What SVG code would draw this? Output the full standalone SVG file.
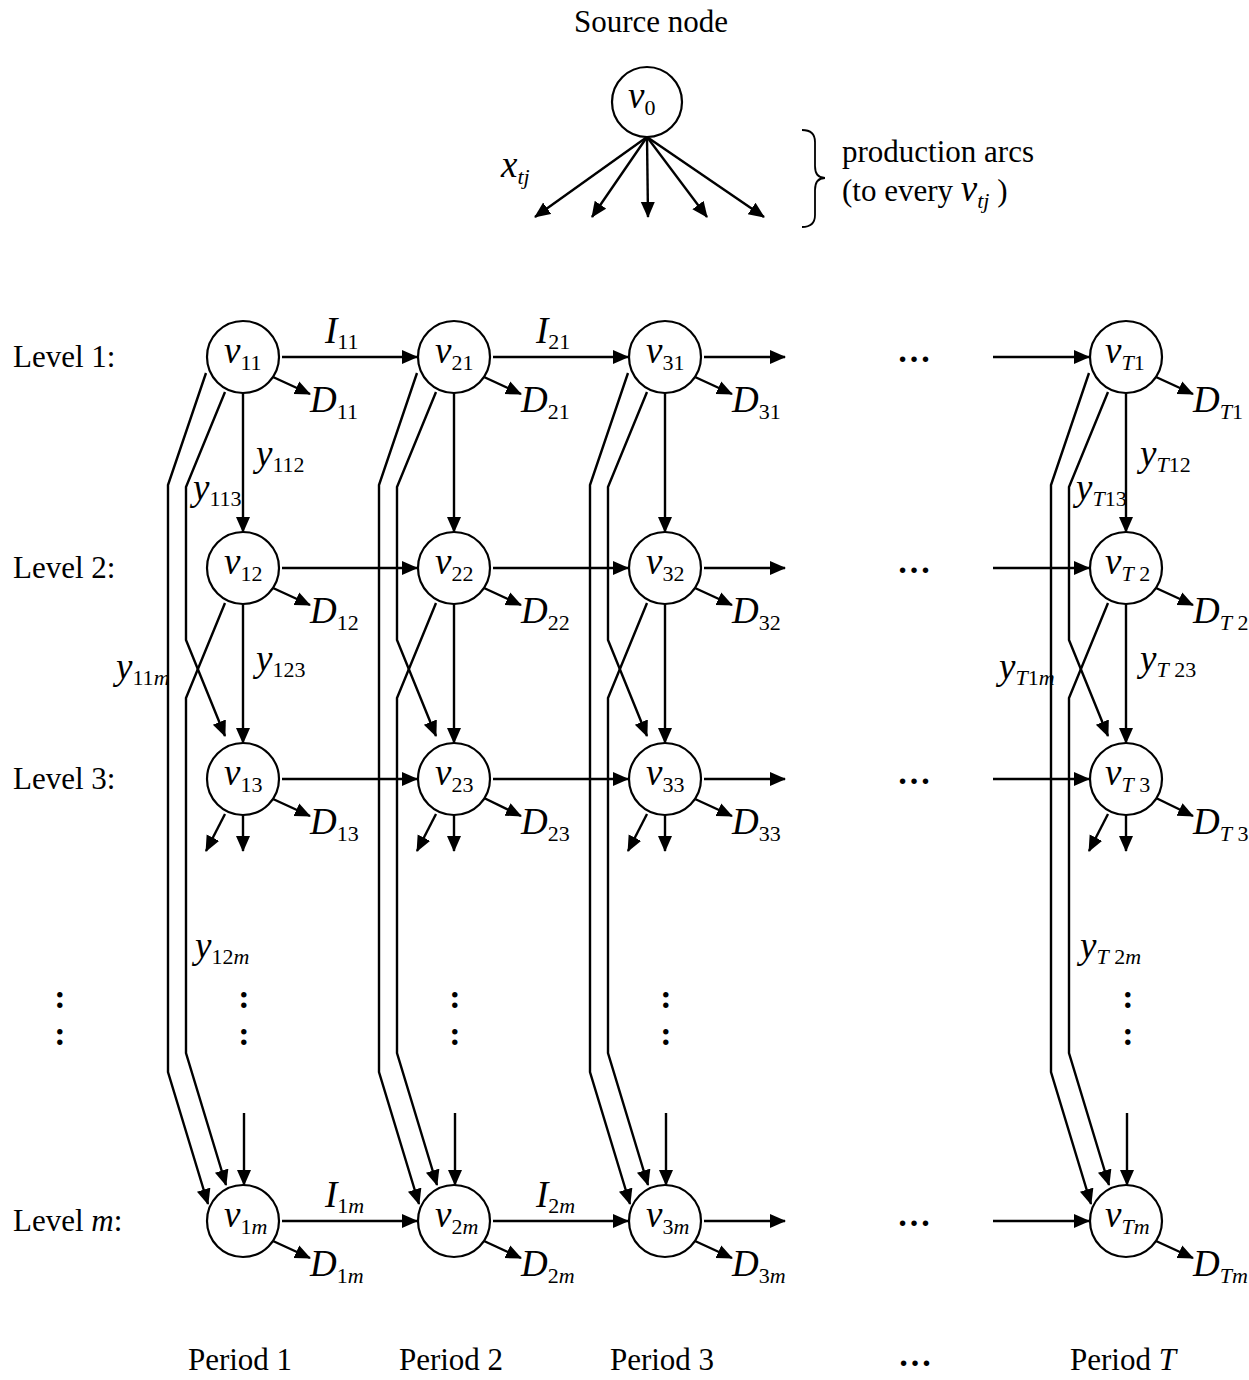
<svg xmlns="http://www.w3.org/2000/svg" width="1249" height="1380" viewBox="0 0 1249 1380">
<defs>
<marker id="ah" markerUnits="userSpaceOnUse" markerWidth="18" markerHeight="16" refX="15" refY="7" orient="auto">
<path d="M0,0 L16,7 L0,14 z" fill="#000"/>
</marker>
</defs>
<style>
text{font-family:"Liberation Serif","Times New Roman",serif;fill:#000}
.t{font-size:31px}
.i{font-size:37px;font-style:italic}
.s{font-size:22px;font-style:normal}
.si{font-size:22px;font-style:italic}
.b{font-size:34px;font-weight:bold}
circle{fill:#fff;stroke:#000;stroke-width:2.2}
.c path,.c line{stroke:#000;stroke-width:2.4;fill:none}
.a{marker-end:url(#ah)}
.br{stroke:#000;stroke-width:1.8;fill:none}
</style>
<rect width="1249" height="1380" fill="#fff"/>

<!-- top -->
<text class="t" x="651" y="32" text-anchor="middle">Source node</text>
<g class="c" id="production-arcs">
<line class="a" x1="647" y1="137" x2="535" y2="217"/>
<line class="a" x1="647" y1="137" x2="592" y2="217"/>
<line class="a" x1="647" y1="137" x2="648" y2="217"/>
<line class="a" x1="647" y1="137" x2="707" y2="217"/>
<line class="a" x1="647" y1="137" x2="764" y2="217"/>
</g>
<g id="v0"><circle cx="647" cy="102" r="35"/><text class="i" x="628" y="108">v<tspan class="s" dy="7">0</tspan></text></g>
<text class="i" x="501" y="177">x<tspan class="si" dy="7">tj</tspan></text>
<path class="br" d="M802,130 Q815,130 815,142 L815,166 Q815,178 825,178 Q815,178 815,190 L815,215 Q815,227 802,227"/>
<text class="t" x="842" y="162">production arcs</text>
<text class="t" x="842" y="201">(to every <tspan class="i">v</tspan><tspan class="si" dy="7">tj</tspan><tspan dy="-7"> )</tspan></text>

<!-- level labels -->
<text class="t" x="13" y="367">Level 1:</text>
<text class="t" x="13" y="578">Level 2:</text>
<text class="t" x="13" y="789">Level 3:</text>
<text class="t" x="13" y="1231">Level <tspan font-style="italic">m</tspan>:</text>

<!-- connectors -->
<g class="c" id="connectors">
<line class="a" x1="282" y1="357" x2="417" y2="357"/><line class="a" x1="493" y1="357" x2="628" y2="357"/><line class="a" x1="704" y1="357" x2="785" y2="357"/><line class="a" x1="993" y1="357" x2="1089" y2="357"/>
<line class="a" x1="282" y1="568" x2="417" y2="568"/><line class="a" x1="493" y1="568" x2="628" y2="568"/><line class="a" x1="704" y1="568" x2="785" y2="568"/><line class="a" x1="993" y1="568" x2="1089" y2="568"/>
<line class="a" x1="282" y1="779" x2="417" y2="779"/><line class="a" x1="493" y1="779" x2="628" y2="779"/><line class="a" x1="704" y1="779" x2="785" y2="779"/><line class="a" x1="993" y1="779" x2="1089" y2="779"/>
<line class="a" x1="282" y1="1221" x2="417" y2="1221"/><line class="a" x1="493" y1="1221" x2="628" y2="1221"/><line class="a" x1="704" y1="1221" x2="785" y2="1221"/><line class="a" x1="993" y1="1221" x2="1089" y2="1221"/>
<line class="a" x1="273" y1="377" x2="310" y2="394"/><line class="a" x1="273" y1="588" x2="310" y2="605"/><line class="a" x1="273" y1="799" x2="310" y2="816"/><line class="a" x1="273" y1="1241" x2="310" y2="1258"/>
<line class="a" x1="484" y1="377" x2="521" y2="394"/><line class="a" x1="484" y1="588" x2="521" y2="605"/><line class="a" x1="482" y1="797" x2="521" y2="816"/><line class="a" x1="484" y1="1241" x2="521" y2="1258"/>
<line class="a" x1="695" y1="377" x2="732" y2="394"/><line class="a" x1="695" y1="588" x2="732" y2="605"/><line class="a" x1="695" y1="799" x2="732" y2="816"/><line class="a" x1="695" y1="1241" x2="732" y2="1258"/>
<line class="a" x1="1156" y1="377" x2="1193" y2="394"/><line class="a" x1="1156" y1="588" x2="1193" y2="605"/><line class="a" x1="1154" y1="797" x2="1193" y2="816"/><line class="a" x1="1156" y1="1241" x2="1193" y2="1258"/>
<line class="a" x1="243" y1="393" x2="243" y2="532"/><line class="a" x1="243" y1="604" x2="243" y2="743"/><line class="a" x1="243" y1="815" x2="243" y2="851"/><line class="a" x1="225" y1="814" x2="206" y2="851"/><line class="a" x1="244" y1="1113" x2="244" y2="1185"/>
<path class="a" d="M206,373 L168,485 L168,1072 L208,1204"/>
<path class="a" d="M225,392 L186,487 L186,640 L225,736"/>
<path class="a" d="M225,603 L186,698 L186,1053 L226,1185"/>
<line class="a" x1="454" y1="393" x2="454" y2="532"/><line class="a" x1="454" y1="604" x2="454" y2="743"/><line class="a" x1="454" y1="815" x2="454" y2="851"/><line class="a" x1="436" y1="814" x2="417" y2="851"/><line class="a" x1="455" y1="1113" x2="455" y2="1185"/>
<path class="a" d="M417,373 L379,485 L379,1072 L419,1204"/>
<path class="a" d="M436,392 L397,487 L397,640 L436,736"/>
<path class="a" d="M436,603 L397,698 L397,1053 L437,1185"/>
<line class="a" x1="665" y1="393" x2="665" y2="532"/><line class="a" x1="665" y1="604" x2="665" y2="743"/><line class="a" x1="665" y1="815" x2="665" y2="851"/><line class="a" x1="647" y1="814" x2="628" y2="851"/><line class="a" x1="666" y1="1113" x2="666" y2="1185"/>
<path class="a" d="M628,373 L590,485 L590,1072 L630,1204"/>
<path class="a" d="M647,392 L608,487 L608,640 L647,736"/>
<path class="a" d="M647,603 L608,698 L608,1053 L648,1185"/>
<line class="a" x1="1126" y1="393" x2="1126" y2="532"/><line class="a" x1="1126" y1="604" x2="1126" y2="743"/><line class="a" x1="1126" y1="815" x2="1126" y2="851"/><line class="a" x1="1108" y1="814" x2="1089" y2="851"/><line class="a" x1="1127" y1="1113" x2="1127" y2="1185"/>
<path class="a" d="M1089,373 L1051,485 L1051,1072 L1091,1204"/>
<path class="a" d="M1108,392 L1069,487 L1069,640 L1108,736"/>
<path class="a" d="M1108,603 L1069,698 L1069,1053 L1109,1185"/>
</g>

<g id="v11"><circle cx="243" cy="357" r="36"/><text class="i" x="224" y="363">v<tspan class="s" dy="7">11</tspan></text></g>
<g id="v12"><circle cx="243" cy="568" r="36"/><text class="i" x="224" y="574">v<tspan class="s" dy="7">12</tspan></text></g>
<g id="v13"><circle cx="243" cy="779" r="36"/><text class="i" x="224" y="785">v<tspan class="s" dy="7">13</tspan></text></g>
<g id="v1m"><circle cx="243" cy="1221" r="36"/><text class="i" x="224" y="1227">v<tspan class="s" dy="7">1</tspan><tspan class="si">m</tspan></text></g>
<g id="v21"><circle cx="454" cy="357" r="36"/><text class="i" x="435" y="363">v<tspan class="s" dy="7">21</tspan></text></g>
<g id="v22"><circle cx="454" cy="568" r="36"/><text class="i" x="435" y="574">v<tspan class="s" dy="7">22</tspan></text></g>
<g id="v23"><circle cx="454" cy="779" r="36"/><text class="i" x="435" y="785">v<tspan class="s" dy="7">23</tspan></text></g>
<g id="v2m"><circle cx="454" cy="1221" r="36"/><text class="i" x="435" y="1227">v<tspan class="s" dy="7">2</tspan><tspan class="si">m</tspan></text></g>
<g id="v31"><circle cx="665" cy="357" r="36"/><text class="i" x="646" y="363">v<tspan class="s" dy="7">31</tspan></text></g>
<g id="v32"><circle cx="665" cy="568" r="36"/><text class="i" x="646" y="574">v<tspan class="s" dy="7">32</tspan></text></g>
<g id="v33"><circle cx="665" cy="779" r="36"/><text class="i" x="646" y="785">v<tspan class="s" dy="7">33</tspan></text></g>
<g id="v3m"><circle cx="665" cy="1221" r="36"/><text class="i" x="646" y="1227">v<tspan class="s" dy="7">3</tspan><tspan class="si">m</tspan></text></g>
<g id="vT1"><circle cx="1126" cy="357" r="36"/><text class="i" x="1105" y="363">v<tspan class="si" dy="7">T</tspan><tspan class="s">1</tspan></text></g>
<g id="vT2"><circle cx="1126" cy="568" r="36"/><text class="i" x="1105" y="574">v<tspan class="si" dy="7">T</tspan><tspan class="s"> 2</tspan></text></g>
<g id="vT3"><circle cx="1126" cy="779" r="36"/><text class="i" x="1105" y="785">v<tspan class="si" dy="7">T</tspan><tspan class="s"> 3</tspan></text></g>
<g id="vTm"><circle cx="1126" cy="1221" r="36"/><text class="i" x="1105" y="1227">v<tspan class="si" dy="7">Tm</tspan></text></g>

<text class="i" x="310" y="412">D<tspan class="s" dy="7">11</tspan></text>
<text class="i" x="310" y="623">D<tspan class="s" dy="7">12</tspan></text>
<text class="i" x="310" y="834">D<tspan class="s" dy="7">13</tspan></text>
<text class="i" x="310" y="1276">D<tspan class="s" dy="7">1</tspan><tspan class="si">m</tspan></text>
<text class="i" x="521" y="412">D<tspan class="s" dy="7">21</tspan></text>
<text class="i" x="521" y="623">D<tspan class="s" dy="7">22</tspan></text>
<text class="i" x="521" y="834">D<tspan class="s" dy="7">23</tspan></text>
<text class="i" x="521" y="1276">D<tspan class="s" dy="7">2</tspan><tspan class="si">m</tspan></text>
<text class="i" x="732" y="412">D<tspan class="s" dy="7">31</tspan></text>
<text class="i" x="732" y="623">D<tspan class="s" dy="7">32</tspan></text>
<text class="i" x="732" y="834">D<tspan class="s" dy="7">33</tspan></text>
<text class="i" x="732" y="1276">D<tspan class="s" dy="7">3</tspan><tspan class="si">m</tspan></text>
<text class="i" x="1193" y="412">D<tspan class="si" dy="7">T</tspan><tspan class="s">1</tspan></text>
<text class="i" x="1193" y="623">D<tspan class="si" dy="7">T</tspan><tspan class="s"> 2</tspan></text>
<text class="i" x="1193" y="834">D<tspan class="si" dy="7">T</tspan><tspan class="s"> 3</tspan></text>
<text class="i" x="1193" y="1276">D<tspan class="si" dy="7">Tm</tspan></text>

<text class="i" x="325" y="343">I<tspan class="s" dy="6">11</tspan></text>
<text class="i" x="536" y="343">I<tspan class="s" dy="6">21</tspan></text>
<text class="i" x="325" y="1207">I<tspan class="s" dy="6">1</tspan><tspan class="si">m</tspan></text>
<text class="i" x="536" y="1207">I<tspan class="s" dy="6">2</tspan><tspan class="si">m</tspan></text>

<text class="i" x="256" y="466">y<tspan class="s" dy="6">112</tspan></text>
<text class="i" x="193" y="500">y<tspan class="s" dy="6">113</tspan></text>
<text class="i" x="256" y="671">y<tspan class="s" dy="6">123</tspan></text>
<text class="i" x="116" y="679">y<tspan class="s" dy="6">11</tspan><tspan class="si">m</tspan></text>
<text class="i" x="195" y="958">y<tspan class="s" dy="6">12</tspan><tspan class="si">m</tspan></text>
<text class="i" x="1140" y="466">y<tspan class="si" dy="6">T</tspan><tspan class="s">12</tspan></text>
<text class="i" x="1076" y="500">y<tspan class="si" dy="6">T</tspan><tspan class="s">13</tspan></text>
<text class="i" x="1140" y="671">y<tspan class="si" dy="6">T</tspan><tspan class="s"> 23</tspan></text>
<text class="i" x="999" y="679">y<tspan class="si" dy="6">T</tspan><tspan class="s">1</tspan><tspan class="si">m</tspan></text>
<text class="i" x="1080" y="958">y<tspan class="si" dy="6">T</tspan><tspan class="s"> 2</tspan><tspan class="si">m</tspan></text>

<text class="b" x="914" y="362" text-anchor="middle">…</text>
<text class="b" x="914" y="573" text-anchor="middle">…</text>
<text class="b" x="914" y="784" text-anchor="middle">…</text>
<text class="b" x="914" y="1226" text-anchor="middle">…</text>

<g text-anchor="middle">
<text class="b" x="60" y="1008">:</text><text class="b" x="60" y="1045">:</text>
<text class="b" x="244" y="1008">:</text><text class="b" x="244" y="1045">:</text>
<text class="b" x="455" y="1008">:</text><text class="b" x="455" y="1045">:</text>
<text class="b" x="666" y="1008">:</text><text class="b" x="666" y="1045">:</text>
<text class="b" x="1128" y="1008">:</text><text class="b" x="1128" y="1045">:</text>
</g>

<g text-anchor="middle">
<text class="t" x="240" y="1370">Period 1</text>
<text class="t" x="451" y="1370">Period 2</text>
<text class="t" x="662" y="1370">Period 3</text>
<text class="b" x="915" y="1366">…</text>
<text class="t" x="1123" y="1370">Period <tspan font-style="italic">T</tspan></text>
</g>
</svg>
